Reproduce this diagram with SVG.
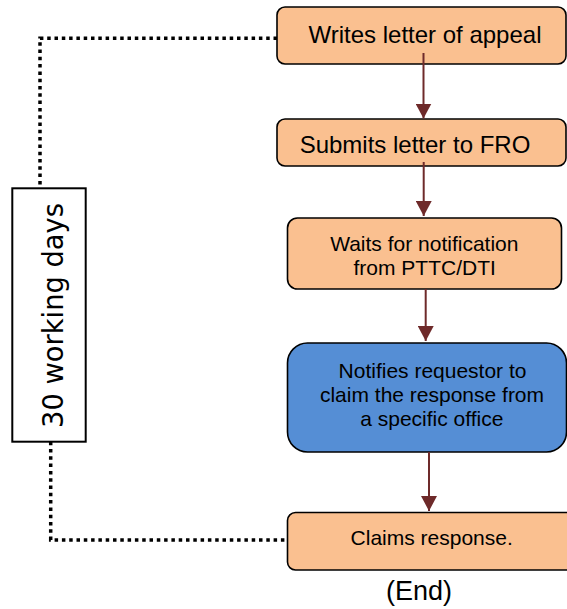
<svg xmlns="http://www.w3.org/2000/svg" width="567" height="609" viewBox="0 0 567 609">
<style>
.peach{fill:#FAC090;stroke:#000;stroke-width:1.6}
.blue{fill:#558ED5;stroke:#000;stroke-width:1.6}
.t{font-family:"Liberation Sans",Arial,sans-serif;fill:#000;text-anchor:middle}
.big{font-size:24px}
.mid{font-size:21px}
.dot{fill:none;stroke:#000;stroke-width:3.5;stroke-dasharray:3.5 3.8}
.arr{stroke:#6E2A2A;stroke-width:2;fill:none;marker-end:url(#ah)}
</style>
<defs>
<marker id="ah" markerUnits="userSpaceOnUse" markerWidth="16" markerHeight="16" refX="15" refY="8" orient="auto">
<path d="M0,0 L15,8 L0,16 z" fill="#6E2A2A"/>
</marker>
</defs>
<rect width="567" height="609" fill="#fff"/>
<g id="n1">
<rect class="peach" x="277" y="7" width="289" height="57" rx="8"/>
<text class="t big" x="425" y="43">Writes letter of appeal</text>
</g>
<g id="n2">
<rect class="peach" x="277" y="119" width="289" height="47" rx="8"/>
<text class="t big" x="415" y="153">Submits letter to FRO</text>
</g>
<g id="n3">
<rect class="peach" x="287.5" y="218" width="274" height="71" rx="10"/>
<text class="t mid" x="424.3" y="251">Waits for notification</text>
<text class="t mid" x="424.7" y="275">from PTTC/DTI</text>
</g>
<g id="n4">
<rect class="blue" x="287.5" y="343" width="279" height="109" rx="20"/>
<text class="t mid" x="432.5" y="378">Notifies requestor to</text>
<text class="t mid" x="432" y="402">claim the response from</text>
<text class="t mid" x="431.8" y="426">a specific office</text>
</g>
<g id="n5">
<rect class="peach" x="287.5" y="512.5" width="290" height="57.5" rx="8"/>
<text class="t mid" x="431.7" y="544.5">Claims response.</text>
</g>
<g id="end">
<text class="t" style="font-size:27px" x="419" y="600">(End)</text>
</g>
<g id="label">
<rect x="12.3" y="188.3" width="73.4" height="253.4" fill="#fff" stroke="#000" stroke-width="2"/>
<text transform="translate(63,315.5) rotate(-90)" text-anchor="middle" style="font-family:'DejaVu Sans',sans-serif;font-size:28px" textLength="225" lengthAdjust="spacingAndGlyphs">30 working days</text>
</g>
<g id="connectors">
<path class="dot" d="M277,38.3 H40 V188.3"/>
<path class="dot" d="M50.7,441.7 V540 H287.5"/>
<line class="arr" x1="423.5" y1="53" x2="423.5" y2="118.5"/>
<line class="arr" x1="423.7" y1="162" x2="423.7" y2="216"/>
<line class="arr" x1="425.7" y1="289" x2="425.7" y2="341"/>
<line class="arr" x1="429" y1="452" x2="429" y2="511"/>
</g>
</svg>
